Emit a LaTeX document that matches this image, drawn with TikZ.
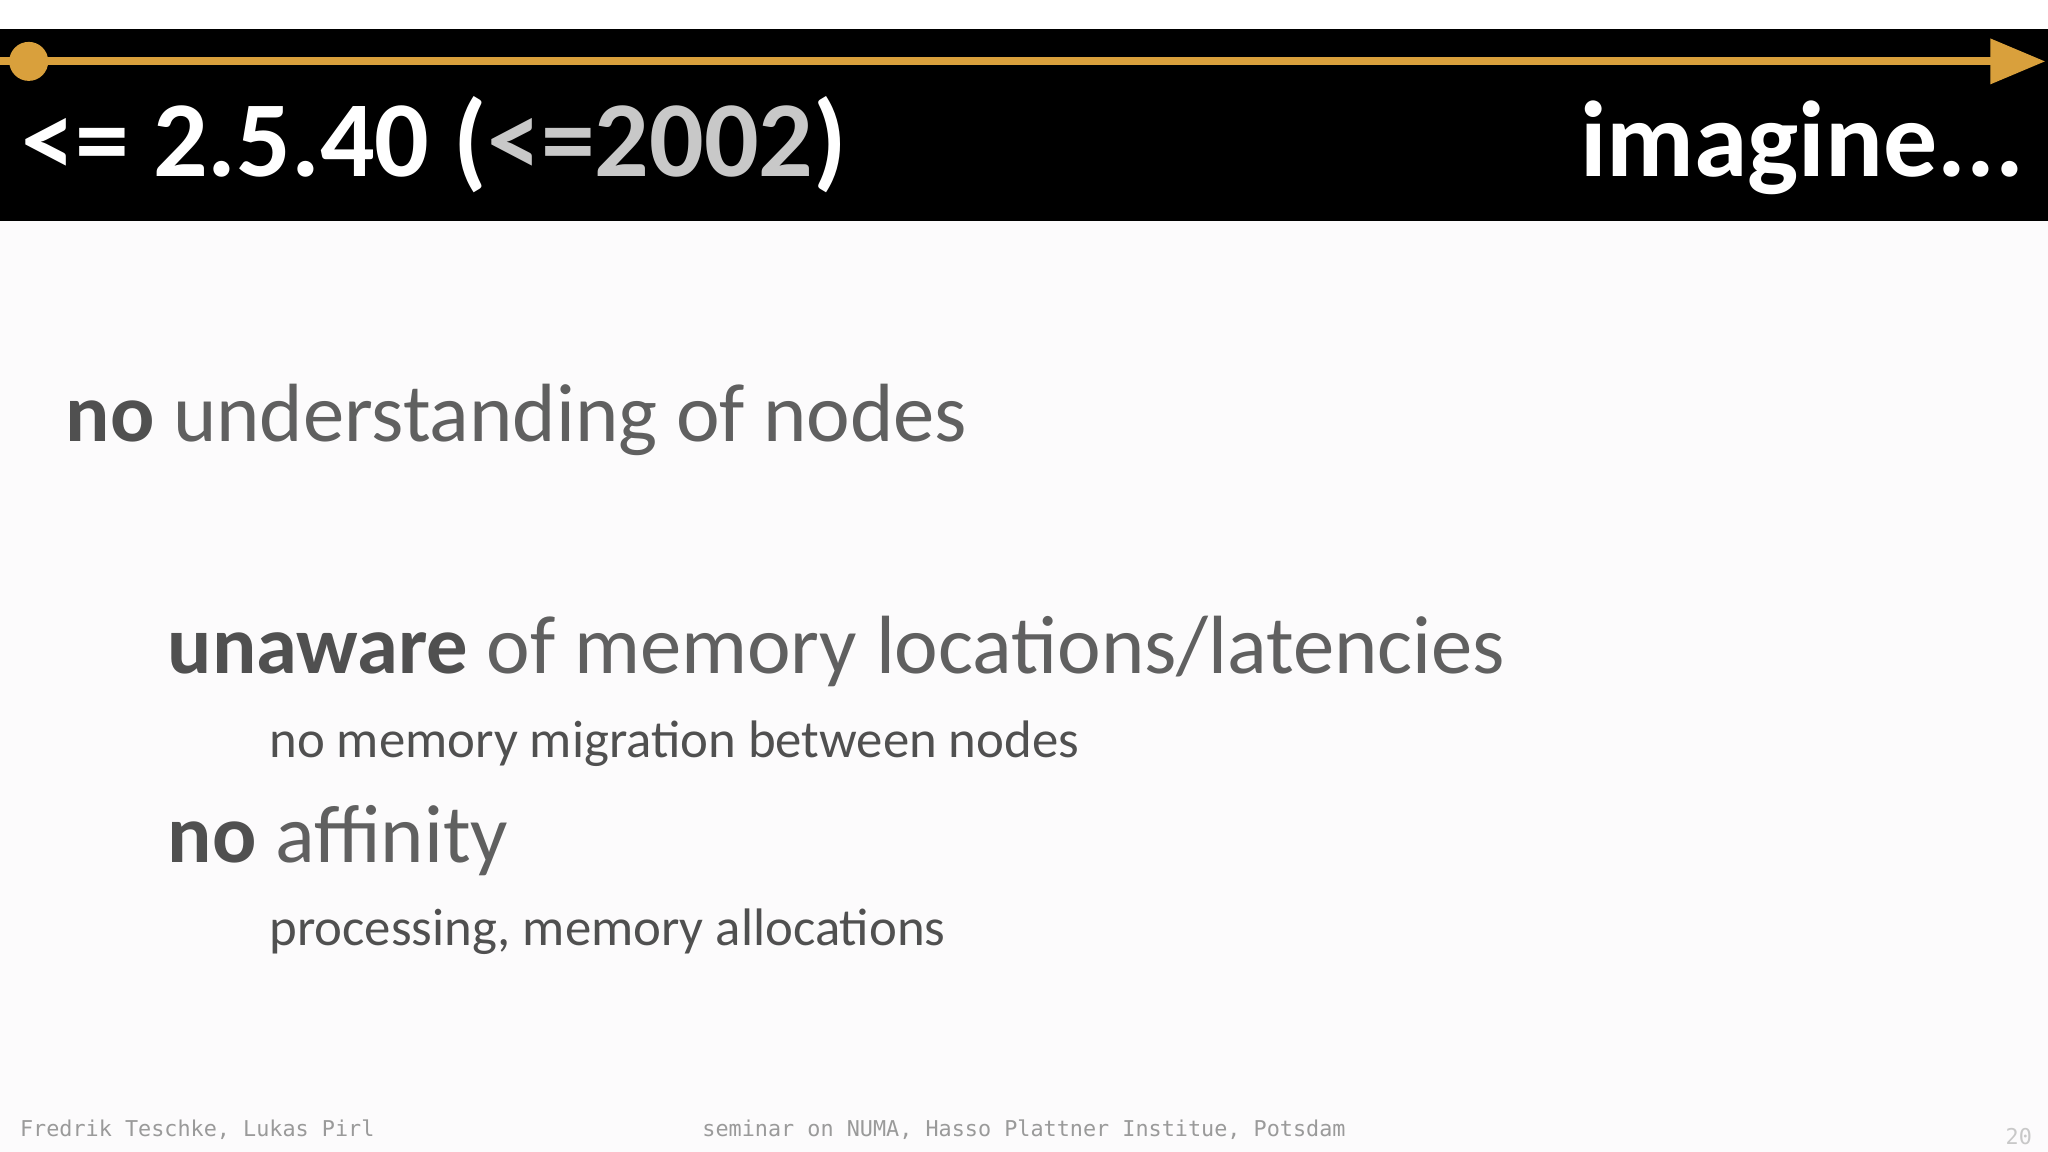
\documentclass[tikz,border=0pt]{standalone}
\usepackage{fontspec}
\setmainfont{Carlito}
\setmonofont{DejaVu Sans Mono}
\usetikzlibrary{arrows.meta}
\definecolor{bg}{HTML}{FCFBFC}
\definecolor{gold}{HTML}{D9A03C}
\definecolor{txt}{HTML}{606060}
\definecolor{sub}{HTML}{505050}
\definecolor{lite}{HTML}{C8C8C8}
\definecolor{foot}{HTML}{9A9A9A}
\tikzset{
 big/.style={anchor=base west,inner sep=0pt,text=txt,font=\fontsize{36}{40}\selectfont},
 small/.style={anchor=base west,inner sep=0pt,text=sub,font=\fontsize{23}{26}\selectfont},
 foot/.style={anchor=base,inner sep=0pt,text=foot,font=\ttfamily\fontsize{9.5}{11}\selectfont},
}
\begin{document}
\begin{tikzpicture}[x=0.02cm,y=-0.02cm]
\fill[bg] (0,0) rectangle (1568,882);
\useasboundingbox (0,0) rectangle (1568,882);
\fill[white] (0,0) rectangle (1568,22);
\fill[black] (0,22) rectangle (1568,169);
\coordinate (ls) at (0,47);
\coordinate (le) at (1566,47);
\draw[gold,line width=3.5pt,-{Triangle[length=24pt,width=19pt]}] (ls) -- (le);
\node[circle,fill=gold,minimum size=17pt,inner sep=0pt] (dot) at (22,47) {};
\node[anchor=base west,inner sep=0pt,text=white,font=\bfseries\fontsize{47}{50}\selectfont] (title) at (16,135) {<= 2.5.40 (\textcolor{lite}{<=2002})};
\node[anchor=base east,inner sep=0pt,text=white,font=\bfseries\fontsize{47}{50}\selectfont] (imag) at (1550,135) {imagine...};
\node[big] (l1) at (50,338) {\textbf{\textcolor{sub}{no}} understanding of nodes};
\node[big] (l2) at (128,516) {\textbf{\textcolor{sub}{unaware}} of memory locations/latencies};
\node[small] (l3) at (206,580) {no memory migration between nodes};
\node[big] (l4) at (128,660) {\textbf{\textcolor{sub}{no}} affinity};
\node[small] (l5) at (206,724) {processing, memory allocations};
\node[foot,anchor=base west] (f1) at (15,870) {Fredrik Teschke, Lukas Pirl};
\node[foot] (f2) at (784,870) {seminar on NUMA, Hasso Plattner Institue, Potsdam};
\node[foot,anchor=base east,text=lite] (f3) at (1556,876) {20};
\end{tikzpicture}
\end{document}
